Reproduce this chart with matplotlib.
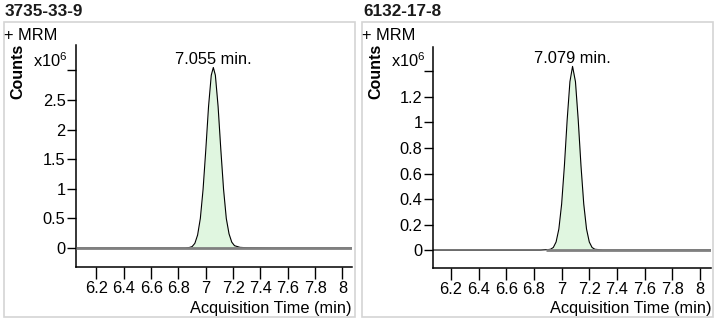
import matplotlib
matplotlib.use("Agg")
import matplotlib.pyplot as plt
from matplotlib.patches import Rectangle

plt.rcParams['font.family'] = ['Liberation Sans', 'DejaVu Sans']
plt.rcParams['mathtext.default'] = 'regular'

# chromatogram 1 (3735-33-9), counts in 1e6
times_1 = [6.05, 6.85, 6.88, 6.90, 6.92, 6.94, 6.96, 6.98, 7.00, 7.02, 7.04, 7.055,
           7.07, 7.09, 7.11, 7.13, 7.15, 7.17, 7.19, 7.21, 7.25, 7.30, 7.50, 8.07]
counts_1 = [0.0, 0.0, 0.01, 0.025, 0.08, 0.22, 0.50, 0.99, 1.66, 2.39, 2.92, 3.05,
            2.92, 2.39, 1.66, 0.99, 0.50, 0.24, 0.10, 0.04, 0.012, 0.005, 0.0, 0.0]
base_1_t = [6.05, 8.07]
fill_1 = (6.90, 7.26)

# chromatogram 2 (6132-17-8)
times_2 = [6.07, 6.85, 6.90, 6.92, 6.94, 6.96, 6.98, 7.00, 7.02, 7.04, 7.06, 7.079,
           7.10, 7.12, 7.14, 7.16, 7.18, 7.20, 7.22, 7.24, 7.30, 8.08]
counts_2 = [0.0, 0.0, 0.003, 0.006, 0.02, 0.063, 0.165, 0.36, 0.66, 1.02, 1.32, 1.44,
            1.32, 1.02, 0.66, 0.36, 0.165, 0.063, 0.02, 0.006, 0.0, 0.0]
base_2_t = [6.89, 8.08]
fill_2 = (6.92, 7.25)

x_ticks = [6.2, 6.4, 6.6, 6.8, 7.0, 7.2, 7.4, 7.6, 7.8, 8.0]
x_labels = ['6.2', '6.4', '6.6', '6.8', '7', '7.2', '7.4', '7.6', '7.8', '8']

panels = [
    dict(title='3735-33-9', t=times_1, c=counts_1, base=base_1_t, fill=fill_1,
         peak='7.055 min.', peak_t=7.055, peak_c=3.05,
         yticks=[0, 0.5, 1, 1.5, 2, 2.5, 3],
         ylabels=['0', '0.5', '1', '1.5', '2', '2.5', ''],
         xlim=(6.05, 8.07), ylim=(-0.32, 3.43),
         box=(4, 22, 355, 317), ax=(76, 45, 352, 267)),
    dict(title='6132-17-8', t=times_2, c=counts_2, base=base_2_t, fill=fill_2,
         peak='7.079 min.', peak_t=7.079, peak_c=1.44,
         yticks=[0, 0.2, 0.4, 0.6, 0.8, 1.0, 1.2, 1.4],
         ylabels=['0', '0.2', '0.4', '0.6', '0.8', '1', '1.2', ''],
         xlim=(6.07, 8.08), ylim=(-0.141, 1.592),
         box=(362, 22, 713, 317), ax=(433, 47, 711, 268)),
]

W, H = 718, 323
fig = plt.figure(figsize=(W / 100, H / 100), dpi=100)

for p in panels:
    bx0, by0, bx1, by1 = p['box']
    fig.patches.append(Rectangle((bx0 / W, 1 - by1 / H), (bx1 - bx0) / W, (by1 - by0) / H,
                                 transform=fig.transFigure, fill=False,
                                 edgecolor='#d4d4d4', linewidth=1.2))
    fig.text((bx0 + 1) / W, 1 - 11 / H, p['title'], fontsize=12.3, fontweight='bold',
             color='#1a1a1a', va='center', ha='left')
    fig.text((bx0 + 0) / W, 1 - 35 / H, '+ MRM', fontsize=11.8, va='center', ha='left')
    fig.text((bx0 + 14) / W, 1 - 71 / H, 'Counts', fontsize=11.5, fontweight='bold',
             rotation=90, va='center', ha='center')
    fig.text((bx0 + 29) / W, 1 - 61 / H, 'x10$^{6}$', fontsize=11.8, va='center', ha='left')

    x0, y0, x1, y1 = p['ax']
    ax = fig.add_axes([x0 / W, 1 - y1 / H, (x1 - x0) / W, (y1 - y0) / H])
    ax.set_xlim(*p['xlim'])
    ax.set_ylim(*p['ylim'])

    t, c = p['t'], p['c']
    lo, hi = p['fill']
    ax.fill_between(t, c, 0, where=[lo <= v <= hi for v in t], interpolate=True,
                    color='#e0f6e0', linewidth=0, zorder=1)
    ax.plot(t, c, color='black', linewidth=0.8, zorder=2)
    ax.plot(p['base'], [0, 0], color='#808080', linewidth=2.0, zorder=3,
            solid_capstyle='butt')
    ax.text(p['peak_t'], p['peak_c'], p['peak'],
            fontsize=11.8, ha='center', va='bottom')

    ax.set_xticks(x_ticks)
    ax.set_xticklabels(x_labels)
    ax.set_yticks(p['yticks'])
    ax.set_yticklabels(p['ylabels'])
    ax.tick_params(axis='x', length=8.5, width=1, pad=1.5, labelsize=11.8, colors='black')
    ax.tick_params(axis='y', length=6.5, width=1, pad=1, labelsize=11.8, colors='black')
    for s in ['top', 'right']:
        ax.spines[s].set_visible(False)
    for s in ['left', 'bottom']:
        ax.spines[s].set_linewidth(1.1)
    ax.patch.set_alpha(0)

    fig.text(x1 / W, 1 - 308 / H, 'Acquisition Time (min)', fontsize=11.8,
             ha='right', va='center')

fig.savefig('out.png', dpi=100)
